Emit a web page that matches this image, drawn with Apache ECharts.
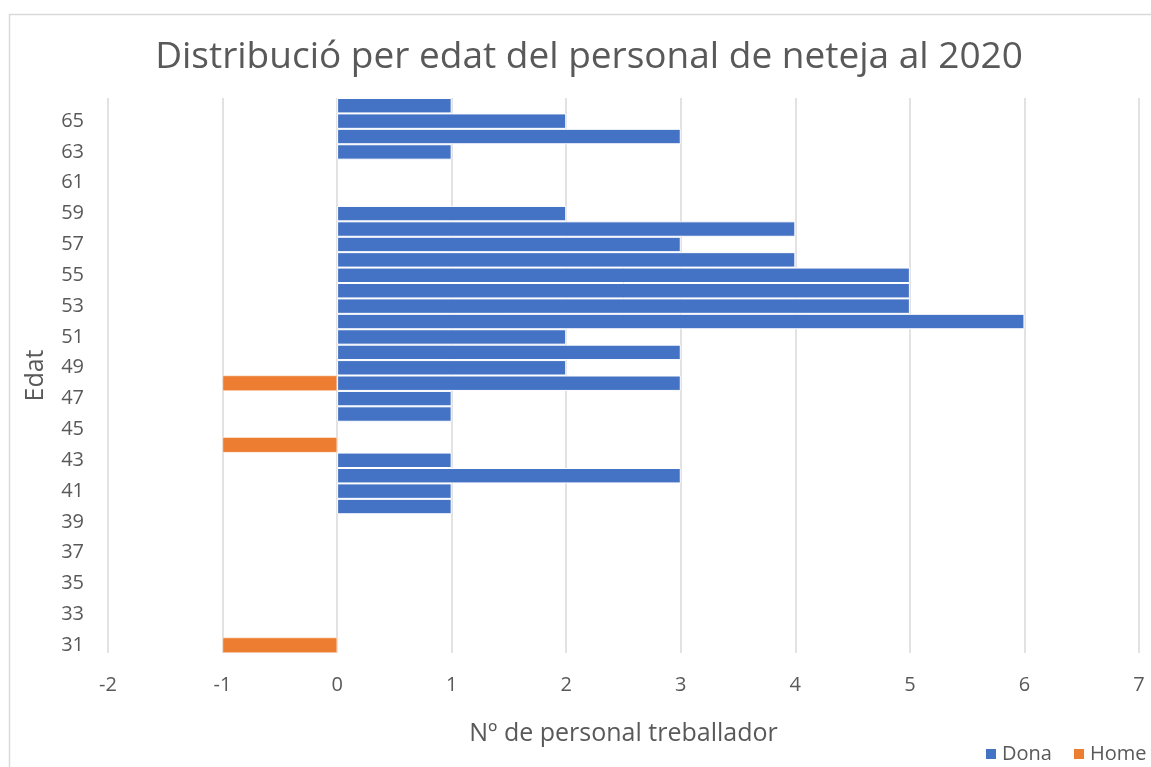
<!DOCTYPE html>
<html>
<head>
<meta charset="utf-8">
<script src="https://cdn.jsdelivr.net/npm/echarts@6/dist/echarts.min.js"></script>
<style>
  html, body { margin: 0; padding: 0; background: #fff; }
  #chart { width: 1151px; height: 767px; }
</style>
</head>
<body>
<div id="chart"></div>
<script>
// edats 31..66
const ages = []
for (let a = 31; a <= 66; a++) ages.push(String(a))

// Dona per edat (31 -> 66)
const dona = [
  null, null, null, null, null, null, null, null, null, // 31-39
  1, 1, 3, 1, null, null, 1, 1, 3, 2, 3, 2, 6, 5, 5, 5, 4, 3, 4, 2, // 40-59
  null, null, null, 1, 3, 2, 1 // 60-66
]
// Home per edat (valors negatius)
const home = [
  -1, null, null, null, null, null, null, null, null, // 31-39
  null, null, null, null, -1, null, null, null, -1, null, null, null, null, null, null, null, null, null, null, null, // 40-59
  null, null, null, null, null, null, null // 60-66
]

const textColor = '#595959'
const font = 'Open Sans'

const legendBase = {
  top: 739,
  itemWidth: 12,
  itemHeight: 12,
  textStyle: { fontSize: 20, color: textColor, fontFamily: font }
}

const chart = echarts.init(document.getElementById('chart'))
chart.setOption({
  backgroundColor: '#fff',
  animation: false,
  textStyle: { fontFamily: font },
  title: {
    text: 'Distribució per edat del personal de neteja al 2020',
    left: 584,
    top: 34,
    textAlign: 'center',
    textStyle: { fontSize: 37, fontWeight: 'normal', color: textColor, fontFamily: font }
  },
  // dues llegendes perquè la segona surt pel marge dret com a l'original
  legend: [
    Object.assign({ left: 979, data: [{ name: 'Dona', icon: 'rect' }] }, legendBase),
    Object.assign({ left: 1067, data: [{ name: 'Home', icon: 'rect' }] }, legendBase)
  ],
  grid: {
    left: 108,
    right: 12,
    top: 98,
    bottom: 114,
    containLabel: false
  },
  xAxis: {
    type: 'value',
    min: -2,
    max: 7,
    interval: 1,
    name: 'Nº de personal treballador',
    nameLocation: 'middle',
    nameGap: 68,
    nameTextStyle: { fontSize: 25, color: textColor, fontFamily: font },
    axisLine: { show: false },
    axisTick: { show: false },
    axisLabel: { fontSize: 20, color: textColor, margin: 22 },
    splitLine: { lineStyle: { color: '#d9d9d9', width: 1.5 } }
  },
  yAxis: {
    type: 'category',
    data: ages,
    name: 'Edat',
    nameLocation: 'middle',
    nameGap: 60,
    nameRotate: 90,
    nameTextStyle: { fontSize: 25, color: textColor, fontFamily: font },
    axisLine: { show: false },
    axisTick: { show: false },
    axisLabel: { interval: 1, fontSize: 20, color: textColor, margin: 24 },
    splitLine: { show: false }
  },
  series: [
    {
      name: 'Dona',
      type: 'bar',
      stack: 'total',
      barCategoryGap: '0%',
      data: dona,
      itemStyle: { color: '#4472C4', borderColor: '#fff', borderWidth: 1 }
    },
    {
      name: 'Home',
      type: 'bar',
      stack: 'total',
      barCategoryGap: '0%',
      data: home,
      itemStyle: { color: '#ED7D31', borderColor: '#fff', borderWidth: 0.5 }
    }
  ],
  graphic: [
    {
      type: 'rect',
      shape: { x: 9.5, y: 14.5, width: 1200, height: 800 },
      style: { fill: 'none', stroke: '#d9d9d9', lineWidth: 1.5 },
      silent: true
    }
  ]
})
</script>
</body>
</html>
